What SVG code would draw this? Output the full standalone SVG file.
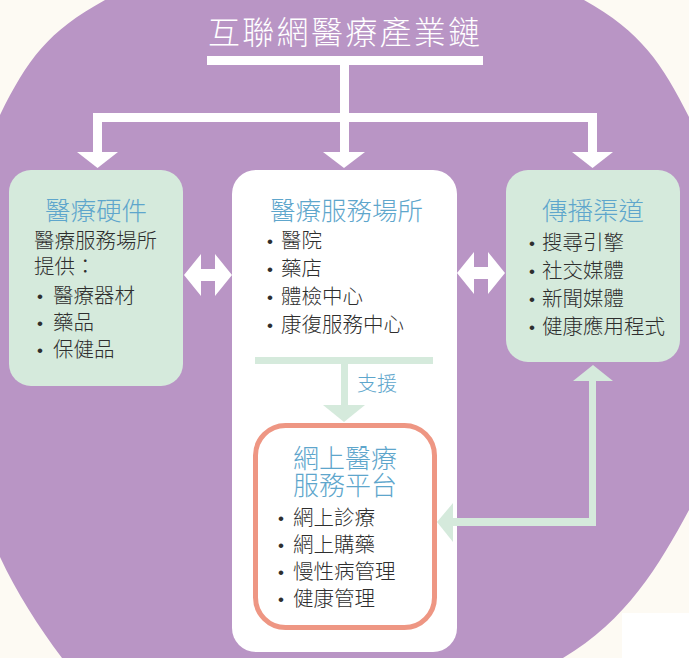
<svg xmlns="http://www.w3.org/2000/svg" width="689" height="658" viewBox="0 0 689 658">
<style>
.t{font-family:"Noto Sans CJK TC","Noto Sans CJK SC",sans-serif;font-weight:300;}
.h{font-size:25.5px;fill:#5ea6cc;text-anchor:middle;}
.i{font-size:20.5px;fill:#2e2e2e;}
.b{font-family:"Liberation Sans",sans-serif;font-size:17px;fill:#2e2e2e;}
.w{fill:#ffffff;}
.g{fill:#d5eadc;}
</style>
<rect x="0" y="0" width="689" height="658" fill="#fdfaf3"/>
<rect x="622" y="613" width="67" height="45" fill="#ffffff"/>
<path id="bg" fill="#b995c5" d="M105,0 C162.5,-31.7 265.2,-75 345,-75 C424.8,-75 526.7,-32 584,0 C641.3,32 662.2,63.7 689,117 C715.8,170.3 745,254.5 745,320 C745,385.5 719.3,453.7 689,510 C658.7,566.3 626.2,620.5 563,658 C499.8,695.5 393.5,735 310,735 C226.5,735 114,728 62,658 C38.6,626.8 16.4,592.5 0,557 C-32,487 -60,408.7 -60,335 C-60,261.3 -27.5,170.8 0,115 C27.5,59.2 47.5,31.7 105,0 Z"/>
<g id="title">
<text class="t" x="208" y="44" font-size="32" letter-spacing="2.3" fill="#ffffff">互聯網醫療產業鏈</text>
</g>
<g id="hardware">
<rect x="9" y="170" width="174" height="216" rx="22" fill="#d5eadc"/>
<text class="t h" x="96" y="220">醫療硬件</text>
<text class="t i" x="34" y="248">醫療服務場所</text>
<text class="t i" x="34" y="274">提供：</text>
<text class="b" x="37" y="302">•</text><text class="t i" x="53" y="303">醫療器材</text>
<text class="b" x="37" y="329">•</text><text class="t i" x="53" y="330">藥品</text>
<text class="b" x="37" y="356">•</text><text class="t i" x="53" y="357">保健品</text>
</g>
<g id="venue">
<rect x="232" y="170" width="225" height="482" rx="24" fill="#ffffff"/>
<text class="t h" x="346.5" y="220">醫療服務場所</text>
<text class="b" x="267" y="247">•</text><text class="t i" x="281" y="248">醫院</text>
<text class="b" x="267" y="275">•</text><text class="t i" x="281" y="276">藥店</text>
<text class="b" x="267" y="303">•</text><text class="t i" x="281" y="304">體檢中心</text>
<text class="b" x="267" y="331">•</text><text class="t i" x="281" y="332">康復服務中心</text>
<rect class="g" x="255" y="357" width="178" height="7"/>
<rect class="g" x="341" y="360" width="7" height="46"/>
<polygon class="g" points="323,405 365,405 344,422"/>
<text class="t" x="357" y="391" font-size="20" fill="#5ea6cc">支援</text>
</g>
<g id="channels">
<rect x="506" y="170" width="174" height="192" rx="22" fill="#d5eadc"/>
<text class="t h" x="593" y="220">傳播渠道</text>
<text class="b" x="529" y="249">•</text><text class="t i" x="542" y="250">搜尋引擎</text>
<text class="b" x="529" y="277">•</text><text class="t i" x="542" y="278">社交媒體</text>
<text class="b" x="529" y="305">•</text><text class="t i" x="542" y="306">新聞媒體</text>
<text class="b" x="529" y="333">•</text><text class="t i" x="542" y="334">健康應用程式</text>
</g>
<g id="online">
<rect x="255.5" y="425.5" width="179" height="202" rx="30" fill="#ffffff" stroke="#ee9683" stroke-width="5"/>
<text class="t" x="345" y="468" font-size="26" fill="#5ea6cc" text-anchor="middle">網上醫療</text>
<text class="t" x="345" y="495" font-size="26" fill="#5ea6cc" text-anchor="middle">服務平台</text>
<text class="b" x="278" y="524">•</text><text class="t i" x="293" y="525">網上診療</text>
<text class="b" x="278" y="551">•</text><text class="t i" x="293" y="552">網上購藥</text>
<text class="b" x="278" y="578">•</text><text class="t i" x="293" y="579">慢性病管理</text>
<text class="b" x="278" y="605">•</text><text class="t i" x="293" y="606">健康管理</text>
</g>
<g id="connectors">
<rect class="w" x="207" y="56" width="276" height="9"/>
<rect class="w" x="340" y="60" width="9" height="93"/>
<rect class="w" x="93" y="113" width="504" height="9"/>
<rect class="w" x="93" y="113" width="9" height="40"/>
<rect class="w" x="588" y="113" width="9" height="40"/>
<polygon class="w" points="77,152 118,152 97.5,168"/>
<polygon class="w" points="323,152 365,152 344,168"/>
<polygon class="w" points="572,152 613,152 592.5,168"/>
<polygon class="w" points="184,275 201,254 201,269 215,269 215,254 232,275 215,296 215,281 201,281 201,296"/>
<polygon class="w" points="457,273 474,252 474,267 488,267 488,252 505,273 488,294 488,279 474,279 474,294"/>
<rect class="g" x="589" y="380" width="7" height="146"/>
<polygon class="g" points="573,381 613,381 593,365"/>
<rect class="g" x="452" y="518" width="144" height="8"/>
<polygon class="g" points="453,503 453,542 437,522"/>
</g>
</svg>
